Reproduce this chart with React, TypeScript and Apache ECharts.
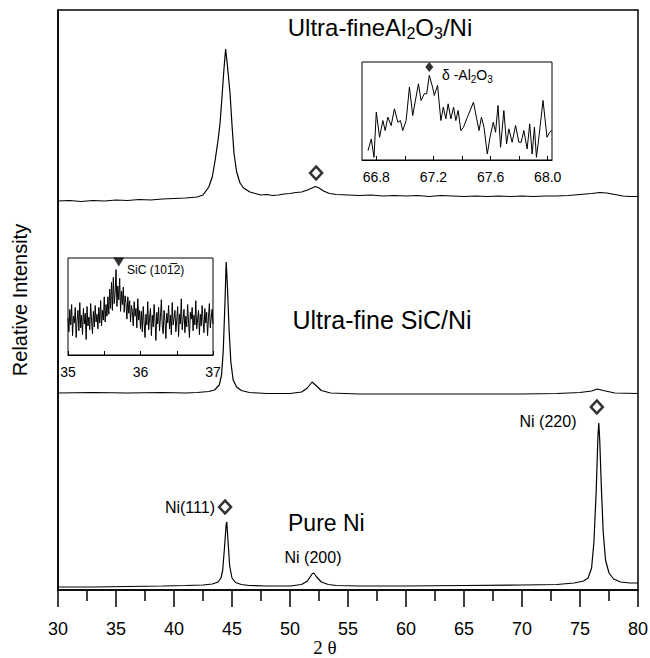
import React, { useEffect, useRef } from "react";
import * as echarts from "echarts";

// ---------- main chart data (2θ, relative intensity, traces offset) ----------
const xRange = [30, 80];
const pureNi: [number, number][] = [
  [30, 3], [33, 3], [36, 3.5], [39, 4], [41, 4.5], [42.5, 5], [43.3, 6], [43.8, 8], [44.05, 12],
  [44.2, 20], [44.35, 42], [44.5, 66], [44.55, 68], [44.65, 50], [44.8, 24], [45.0, 12], [45.3, 7.5],
  [45.8, 5.5], [46.5, 4.5], [48, 4], [50, 4], [51, 5.5], [51.5, 9], [51.9, 16], [52.05, 17], [52.3, 13],
  [52.7, 8], [53.3, 5.5], [54, 4.5], [56, 4], [60, 4], [65, 4.5], [70, 5], [73, 5.5], [74.5, 7],
  [75.3, 9], [75.7, 12], [76.0, 22], [76.2, 48], [76.4, 100], [76.55, 155], [76.62, 167], [76.7, 150],
  [76.85, 100], [77.0, 58], [77.2, 30], [77.5, 17], [77.9, 11], [78.5, 8], [79.3, 7], [80, 7],
];
const sicNi: [number, number][] = [
  [30, 197], [33, 197.5], [36, 197], [39, 197.5], [41, 197], [42, 197.5], [43, 198.5], [43.5, 200],
  [43.9, 205], [44.1, 215], [44.25, 240], [44.4, 290], [44.5, 328], [44.6, 305], [44.75, 260],
  [44.9, 228], [45.1, 210], [45.4, 203], [45.8, 199.5], [46.5, 197.5], [48, 196.5], [50, 196.5],
  [51, 198], [51.5, 202], [51.9, 208], [52.2, 205], [52.7, 199.5], [53.5, 197], [56, 196], [60, 196],
  [65, 196], [70, 196], [73, 196.5], [75, 197.5], [76, 199], [76.5, 201], [77, 199.5], [78, 197],
  [80, 196.5],
];
const al2o3Ni: [number, number][] = [
  [30, 389], [31, 389.5], [32, 388.5], [33, 389.5], [34, 389], [35, 390], [36, 389.5], [37, 390.5],
  [38, 390], [39, 391], [40, 391.5], [41, 392], [42, 393], [42.5, 395], [43.0, 403], [43.3, 413],
  [43.55, 430], [43.8, 450], [43.97, 467], [44.15, 495], [44.3, 520], [44.45, 541], [44.6, 525],
  [44.83, 497], [45.0, 465], [45.17, 437], [45.4, 418], [45.69, 407], [46.0, 402], [46.55, 398],
  [47.0, 396.5], [47.5, 395], [48.0, 395.5], [48.5, 394.5], [49.0, 395], [49.5, 396], [50.0, 396.5],
  [50.5, 397.5], [51.0, 398], [51.5, 400], [51.9, 402], [52.2, 403.5], [52.5, 402], [52.9, 399],
  [53.4, 396.5], [54, 395.5], [55, 395], [56, 394.5], [57, 395], [58, 394], [59, 394.5], [60, 394],
  [61, 394.5], [62, 393.5], [63, 394.5], [64, 394], [65, 393.5], [66, 394], [67, 393.5], [68, 394],
  [69, 393.5], [70, 394], [71, 393.5], [72, 394], [73, 394], [74, 394.5], [75, 395.5], [76, 396.5],
  [76.7, 397.5], [77.3, 397], [78, 395.5], [78.7, 394], [79.3, 393.5], [80, 393.5],
];
const peakMarks: [number, number][] = [[52.25, 417], [44.4, 83], [76.45, 183]];

// ---------- inset: δ-Al2O3 ----------
const alInsetRange = [66.7, 68.03];
const alInsetTicks = [66.8, 67.0, 67.2, 67.4, 67.6, 67.8, 68.0];
const alInsetLabels = [66.8, 67.2, 67.6, 68.0];
const alInset: [number, number][] = [
  [66.742, 28], [66.765, 63], [66.784, 8], [66.8, 143], [66.823, 68], [66.846, 118], [66.862, 88],
  [66.881, 128], [66.904, 103], [66.927, 153], [66.951, 113], [66.969, 118], [66.985, 88],
  [67.009, 118], [67.032, 218], [67.055, 133], [67.078, 188], [67.095, 228], [67.113, 178],
  [67.136, 198], [67.153, 198], [67.171, 253], [67.194, 218], [67.206, 193], [67.229, 223],
  [67.252, 118], [67.269, 158], [67.287, 123], [67.303, 168], [67.322, 123], [67.341, 158],
  [67.357, 118], [67.373, 148], [67.392, 88], [67.41, 98], [67.433, 123], [67.457, 148], [67.48, 173],
  [67.503, 123], [67.519, 88], [67.536, 128], [67.554, 98], [67.577, 18], [67.596, 68], [67.619, 113],
  [67.635, 83], [67.652, 163], [67.67, 38], [67.693, 148], [67.712, 48], [67.728, 93], [67.751, 53],
  [67.775, 103], [67.798, 53], [67.814, 53], [67.833, 88], [67.856, 33], [67.874, 108], [67.891, 18],
  [67.907, 98], [67.921, 8], [67.937, 63], [67.967, 178], [67.995, 68], [68.014, 83], [68.03, 88],
];
const alInsetMark: [number, number][] = [[67.171, 278]];

// ---------- inset: SiC (10-12) ----------
const sicInsetRange = [35, 37];
const sicInsetLabels = [35, 36, 37];
const sicInsetCounts = [
  38, 24, 47, 31, 52, 20, 40, 33, 49, 18, 36, 46, 25, 54, 28, 41, 21, 48, 32, 43, 16, 50, 30, 39, 26, 53, 35, 22, 45, 29, 51, 34,
  42, 27, 49, 33, 56, 30, 46, 36, 60, 34, 52, 40,
  60, 42, 68, 48, 75, 46, 80, 53, 64, 88, 50, 71, 57, 79, 45, 66, 52, 70, 44, 61,
  53, 37, 60, 43, 56, 34, 51, 45, 30, 55, 40, 48, 28, 58, 36, 46,
  27, 45, 24, 50, 33, 18, 42, 31, 55, 26, 38, 48, 20, 41, 29, 52, 36, 15, 44, 32, 49, 25, 39, 57, 30, 22, 46, 35, 17, 43, 33,
  51, 27, 41, 21, 54, 31, 38, 46, 24, 36, 50, 19, 42, 32, 58, 26, 37, 47, 23, 40, 29, 52, 34, 18, 44, 37, 49, 25, 41, 31, 56,
  27, 36, 46, 21, 42, 30, 51, 36, 23, 48, 33, 44, 20, 39, 53, 28, 38, 47, 32,
];
const sicInsetMark: [number, number][] = [[35.7, 96]];

const SANS = "'Liberation Sans', Arial, Helvetica, sans-serif";
const SERIF = "'Liberation Serif', 'Times New Roman', serif";

export default function App() {
  const ref = useRef<HTMLDivElement>(null);
  useEffect(() => {
    if (!ref.current) return;
    const chart = echarts.init(ref.current, undefined, { renderer: "svg" });
    const step = (sicInsetRange[1] - sicInsetRange[0]) / (sicInsetCounts.length - 1);
    const sicInset = sicInsetCounts.map((v, i) => [sicInsetRange[0] + i * step, v]);
    const black = "#000";
    const insetAxisCommon = {
      axisLine: { show: true, lineStyle: { color: black, width: 1 } },
      splitLine: { show: false },
    };
    chart.setOption({
      animation: false,
      backgroundColor: "#fff",
      grid: [
        { left: 58, right: 12, top: 10, bottom: 68, outerBoundsMode: "none", containLabel: false, show: true, borderColor: black, borderWidth: 1.5, backgroundColor: "transparent" },
        { left: 362, top: 62, width: 190, height: 98, outerBoundsMode: "none", containLabel: false, show: true, borderColor: black, borderWidth: 1, backgroundColor: "#fff" },
        { left: 68, top: 258, width: 145, height: 97, outerBoundsMode: "none", containLabel: false, show: true, borderColor: black, borderWidth: 1, backgroundColor: "#fff" },
      ],
      xAxis: [
        {
          gridIndex: 0, type: "value", min: xRange[0], max: xRange[1], interval: 5,
          axisLine: { lineStyle: { color: black, width: 1.5 } },
          axisTick: { length: 17, lineStyle: { color: black, width: 1.5 } },
          minorTick: { show: true, splitNumber: 2, length: 11, lineStyle: { color: black, width: 1.5 } },
          axisLabel: { fontFamily: SANS, fontSize: 18, color: black, margin: 30 },
          splitLine: { show: false },
        },
        {
          gridIndex: 1, type: "value", min: alInsetRange[0], max: alInsetRange[1],
          ...insetAxisCommon,
          axisTick: { inside: true, length: 4, customValues: alInsetTicks, lineStyle: { color: black } },
          axisLabel: { customValues: alInsetLabels, fontFamily: SANS, fontSize: 14, color: black, margin: 10, formatter: (v: number) => v.toFixed(1) },
        },
        {
          gridIndex: 2, type: "value", min: sicInsetRange[0], max: sicInsetRange[1], interval: 0.5,
          ...insetAxisCommon,
          axisTick: { inside: true, length: 4, lineStyle: { color: black } },
          axisLabel: { customValues: sicInsetLabels, fontFamily: SANS, fontSize: 14, color: black, margin: 10 },
        },
      ],
      yAxis: [
        {
          gridIndex: 0, type: "value", min: 0, max: 580,
          name: "Relative Intensity", nameLocation: "middle", nameGap: 28,
          nameTextStyle: { fontFamily: SANS, fontSize: 20, color: black },
          axisLine: { show: true, lineStyle: { color: black, width: 1.5 } },
          axisTick: { show: false }, axisLabel: { show: false }, splitLine: { show: false },
        },
        { gridIndex: 1, type: "value", min: 0, max: 293, axisLine: { show: false }, axisTick: { show: false }, axisLabel: { show: false }, splitLine: { show: false } },
        { gridIndex: 2, type: "value", min: 0, max: 100, axisLine: { show: false }, axisTick: { show: false }, axisLabel: { show: false }, splitLine: { show: false } },
      ],
      series: [
        { type: "line", xAxisIndex: 0, yAxisIndex: 0, data: pureNi, showSymbol: false, lineStyle: { color: black, width: 1.2 } },
        { type: "line", xAxisIndex: 0, yAxisIndex: 0, data: sicNi, showSymbol: false, lineStyle: { color: black, width: 1.2 } },
        { type: "line", xAxisIndex: 0, yAxisIndex: 0, data: al2o3Ni, showSymbol: false, lineStyle: { color: black, width: 1.2 } },
        {
          type: "scatter", xAxisIndex: 0, yAxisIndex: 0, data: peakMarks, symbol: "diamond", symbolSize: [12, 13],
          itemStyle: { color: "#fff", borderColor: black, borderWidth: 2.5 }, z: 5,
        },
        { type: "line", xAxisIndex: 1, yAxisIndex: 1, data: alInset, showSymbol: false, lineStyle: { color: black, width: 1 } },
        { type: "scatter", xAxisIndex: 1, yAxisIndex: 1, data: alInsetMark, symbol: "diamond", symbolSize: [8, 10], itemStyle: { color: black } },
        { type: "line", xAxisIndex: 2, yAxisIndex: 2, data: sicInset, showSymbol: false, lineStyle: { color: black, width: 1 } },
        { type: "scatter", xAxisIndex: 2, yAxisIndex: 2, data: sicInsetMark, symbol: "triangle", symbolRotate: 180, symbolSize: [11, 9], itemStyle: { color: black } },
      ],
      graphic: [
        {
          type: "text", x: 380, y: 27,
          style: {
            text: "{a|Ultra-fineAl}{s|2}{a|O}{s|3}{a|/Ni}", align: "center", verticalAlign: "middle",
            rich: {
              a: { fontFamily: SANS, fontSize: 24, fill: black, color: black },
              s: { fontFamily: SANS, fontSize: 16, fill: black, color: black, padding: [13, 0, 0, 0] },
            },
          },
        },
        { type: "text", x: 382, y: 320, style: { text: "Ultra-fine SiC/Ni", font: `25px ${SANS}`, fill: black, align: "center", verticalAlign: "middle" } },
        { type: "text", x: 288, y: 523, style: { text: "Pure Ni", font: `23px ${SANS}`, fill: black, align: "left", verticalAlign: "middle" } },
        { type: "text", x: 215, y: 507, style: { text: "Ni(111)", font: `16px ${SANS}`, fill: black, align: "right", verticalAlign: "middle" } },
        { type: "text", x: 313, y: 557, style: { text: "Ni (200)", font: `16px ${SANS}`, fill: black, align: "center", verticalAlign: "middle" } },
        { type: "text", x: 548, y: 421, style: { text: "Ni (220)", font: `16px ${SANS}`, fill: black, align: "center", verticalAlign: "middle" } },
        { type: "text", x: 325, y: 647, style: { text: "2 θ", font: `19px ${SERIF}`, fill: black, align: "center", verticalAlign: "middle" } },
        {
          type: "text", x: 442, y: 75, z: 10,
          style: {
            text: "{a|δ -Al}{s|2}{a|O}{s|3}", align: "left", verticalAlign: "middle",
            rich: {
              a: { fontFamily: SANS, fontSize: 14, fill: black, color: black },
              s: { fontFamily: SANS, fontSize: 10, fill: black, color: black, padding: [8, 0, 0, 0] },
            },
          },
        },
        { type: "text", x: 127, y: 270, z: 10, style: { text: "SiC (101\u03052)", font: `12px ${SANS}`, fill: black, align: "left", verticalAlign: "middle" } },
      ],
    });
    return () => chart.dispose();
  }, []);
  return <div ref={ref} style={{ width: 650, height: 658, position: "absolute", left: 0, top: 0 }} />;
}
